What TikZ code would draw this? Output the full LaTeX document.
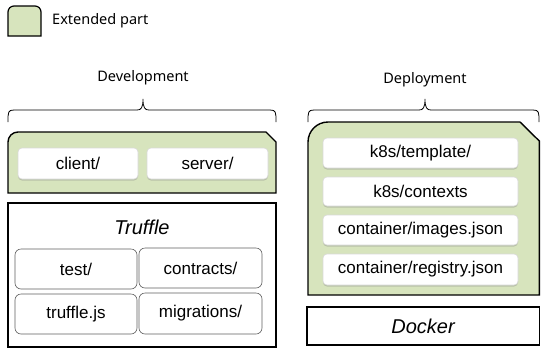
\documentclass[tikz,border=0pt]{standalone}
\usepackage{fontspec}
\setmainfont{Liberation Sans}
\newfontfamily\labelfont{Noto Sans}
\usetikzlibrary{shadows}
\definecolor{extgreen}{HTML}{D7E4BD}
\tikzset{
  greenbox/.style={draw=black, line width=1.4pt, fill=extgreen},
  whitebox/.style={draw=black, line width=1.4pt, fill=white},
  softbox/.style={draw=gray!30, fill=white, rounded corners=4pt, line width=0.6pt,
    drop shadow={shadow xshift=0pt, shadow yshift=-1.5pt, opacity=0.35, fill=gray},
    font=\fontsize{17}{20}\selectfont, inner sep=0pt},
  filebox/.style={draw=gray!75!black, fill=white, rounded corners=6pt, line width=0.6pt,
    font=\fontsize{17}{20}\selectfont, inner sep=0pt},
  lbl/.style={font=\labelfont\fontsize{14.5}{17}\selectfont, inner sep=0pt},
  titletext/.style={font=\fontsize{20}{24}\selectfont\itshape, inner sep=0pt},
  bracepath/.style={draw=black, line width=0.8pt}
}
\begin{document}
\begin{tikzpicture}[x=1pt,y=-1pt]
\useasboundingbox (0,0) rectangle (541,349);
% legend
\path[greenbox, line width=1.2pt] (8,36) -- (8,12) arc[start angle=180,end angle=270,radius=6] -- (35,6) arc[start angle=270,end angle=360,radius=6] -- (41,36) -- cycle;
\node[lbl, anchor=west] (legend) at (52,21) {Extended part};

% Development
\node[lbl] (devlabel) at (143,78) {Development};
\draw[bracepath] (8,122) .. controls (8,112) and (8,110) .. (14,110) -- (137,110)
  .. controls (141,110) and (143,108) .. (143,99)
  .. controls (143,108) and (145,110) .. (149,110) -- (270,110)
  .. controls (276,110) and (276,112) .. (276,122);
\path[greenbox] (8,193) -- (8,142) arc[start angle=180,end angle=270,radius=10] -- (266,132) -- (276,142) -- (276,193) -- cycle;
\node[softbox, minimum width=120pt, minimum height=31pt] (client) at (78,163.5) {client/};
\node[softbox, minimum width=121pt, minimum height=31pt] (server) at (207.5,163.5) {server/};

\draw[whitebox] (8,203) rectangle (276,347);
\node[titletext] (truffle) at (142,227) {Truffle};
\node[filebox, minimum width=122pt, minimum height=40pt] (test) at (76,269) {test/};
\node[filebox, minimum width=123pt, minimum height=40pt] (contracts) at (200.5,268) {contracts/};
\node[filebox, minimum width=122pt, minimum height=40pt] (trufflejs) at (76,314) {truffle.js};
\node[filebox, minimum width=123pt, minimum height=41pt] (migrations) at (200.5,313.5) {migrations/};

% Deployment
\node[lbl] (deplabel) at (425,80) {Deployment};
\draw[bracepath] (308,122) .. controls (308,112) and (308,110) .. (314,110) -- (419,110)
  .. controls (423,110) and (425,108) .. (425,99)
  .. controls (425,108) and (427,110) .. (431,110) -- (533,110)
  .. controls (539,110) and (539,112) .. (539,122);
\path[greenbox] (308,295) -- (308,142) arc[start angle=180,end angle=270,radius=20] -- (520,122) -- (539.3,141) -- (539.3,295) -- cycle;
\node[softbox, minimum width=195pt, minimum height=30pt] (tmpl) at (420.5,153) {k8s/template/};
\node[softbox, minimum width=195pt, minimum height=29pt] (ctx) at (420.5,191.5) {k8s/contexts};
\node[softbox, minimum width=195pt, minimum height=30pt] (img) at (420.5,230) {container/images.json};
\node[softbox, minimum width=195pt, minimum height=31pt] (reg) at (420.5,269.5) {container/registry.json};

\draw[whitebox] (307,307) rectangle (539.3,345);
\node[titletext] (docker) at (423,326) {Docker};
\end{tikzpicture}
\end{document}
